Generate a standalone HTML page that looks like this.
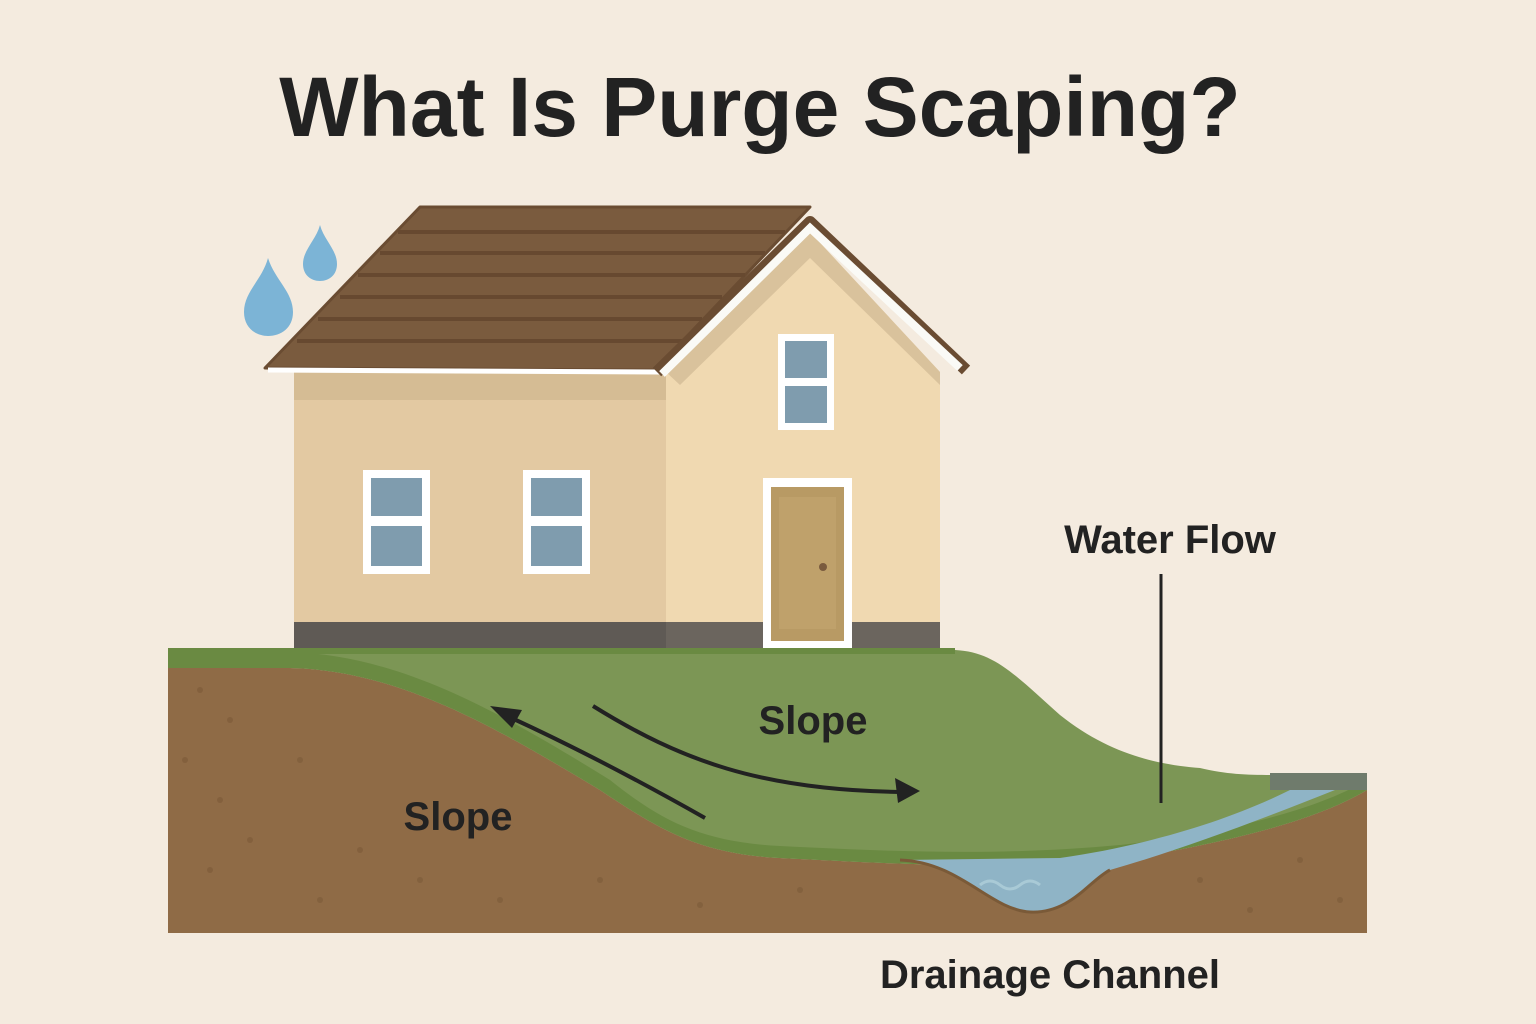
<!DOCTYPE html>
<html><head><meta charset="utf-8"><style>
html,body{margin:0;padding:0;background:#f4ebdf;}
svg{display:block}
text{font-family:"Liberation Sans","DejaVu Sans",sans-serif;fill:#222;}
</style></head><body>
<svg width="1536" height="1024" viewBox="0 0 1536 1024">
<rect width="1536" height="1024" fill="#f4ebdf"/>
<text x="760" y="136" text-anchor="middle" font-size="84" font-weight="bold">What Is Purge Scaping?</text>
<path d="M268,258 C262,280 244,292 244,312 C244,328 256,336 268,336 C281,336 293,328 293,312 C293,292 275,280 268,258Z" fill="#7cb4d6"/>
<path d="M320,225 C316,240 303,250 303,264 C303,275 311,281 320,281 C329,281 337,275 337,264 C337,250 324,240 320,225Z" fill="#7cb4d6"/>
<rect x="294" y="372" width="372" height="252" fill="#e3c9a2"/>
<rect x="294" y="372" width="372" height="28" fill="#d5bc94"/>
<polygon points="666,372 810,232 940,372 940,624 666,624" fill="#f0d9b1"/>
<polygon points="666,372 810,232 940,372 940,385 810,258 680,385" fill="#d9c29c"/>
<rect x="294" y="622" width="646" height="26" fill="#5f5a55"/>
<rect x="666" y="622" width="274" height="26" fill="#6b655e"/>
<polygon points="420,207 810,207 655,370 265,368" fill="#7a5b3e" stroke="#6a4c32" stroke-width="3" stroke-linejoin="round"/>
<g stroke="#674930" stroke-width="4">
<line x1="398" y1="232" x2="785" y2="232"/><line x1="380" y1="253" x2="765" y2="253"/><line x1="358" y1="275" x2="745" y2="275"/><line x1="340" y1="297" x2="722" y2="297"/><line x1="318" y1="319" x2="702" y2="319"/><line x1="297" y1="341" x2="682" y2="341"/>
</g>
<line x1="268" y1="370" x2="660" y2="372" stroke="#fff" stroke-width="5"/>
<polyline points="657,372 810,222 966,370" fill="none" stroke="#6a4c32" stroke-width="12" stroke-linejoin="round"/>
<polyline points="662,374 810,228 960,368" fill="none" stroke="#fafaf6" stroke-width="8" stroke-linejoin="miter"/>
<g>
<rect x="363" y="470" width="67" height="104" fill="#fff"/><rect x="371" y="478" width="51" height="38" fill="#7f9cae"/><rect x="371" y="526" width="51" height="40" fill="#7f9cae"/>
<rect x="523" y="470" width="67" height="104" fill="#fff"/><rect x="531" y="478" width="51" height="38" fill="#7f9cae"/><rect x="531" y="526" width="51" height="40" fill="#7f9cae"/>
<rect x="778" y="334" width="56" height="96" fill="#fff"/><rect x="785" y="341" width="42" height="37" fill="#7f9cae"/><rect x="785" y="386" width="42" height="37" fill="#7f9cae"/>
<rect x="763" y="478" width="89" height="170" fill="#fff"/><rect x="771" y="487" width="73" height="154" fill="#b89a64"/><rect x="779" y="497" width="57" height="132" fill="#bfa16b"/>
<circle cx="823" cy="567" r="4" fill="#7a5b3e"/>
</g>
<path d="M168,668 L290,668 C400,670 500,730 600,790 C660,830 700,854 780,858 C900,864 1000,870 1120,860 C1180,850 1300,830 1367,790 L1367,933 L168,933 Z" fill="#8f6b46"/>
<g fill="#7e5c3a" opacity="0.7">
<circle cx="200" cy="690" r="3"/><circle cx="230" cy="720" r="3"/><circle cx="185" cy="760" r="3"/><circle cx="220" cy="800" r="3"/><circle cx="250" cy="840" r="3"/><circle cx="210" cy="870" r="3"/><circle cx="300" cy="760" r="3"/><circle cx="320" cy="900" r="3"/><circle cx="360" cy="850" r="3"/><circle cx="420" cy="880" r="3"/><circle cx="500" cy="900" r="3"/><circle cx="600" cy="880" r="3"/><circle cx="700" cy="905" r="3"/><circle cx="800" cy="890" r="3"/><circle cx="1200" cy="880" r="3"/><circle cx="1300" cy="860" r="3"/><circle cx="1340" cy="900" r="3"/><circle cx="1250" cy="910" r="3"/>
</g>
<path d="M168,650 L955,650 C995,652 1015,675 1060,715 C1110,755 1160,765 1200,768 C1230,775 1250,775 1280,775 L1367,773 L1367,790 C1300,830 1180,850 1120,860 C1000,870 900,864 780,858 C700,854 660,830 600,790 C500,730 400,670 290,668 L168,668 Z" fill="#7c9655"/>
<path d="M168,668 L290,668 C400,670 500,730 600,790 C660,830 700,854 780,858 C900,864 1000,870 1120,860 C1180,850 1300,830 1367,790 L1367,780 C1300,820 1180,838 1120,845 C1000,856 900,852 780,846 C700,842 660,820 610,780 C500,712 400,655 290,652 L168,652 Z" fill="#6a8a42"/>
<rect x="168" y="648" width="787" height="6" fill="#6a8a42"/>
<path d="M900,860 C960,862 990,910 1030,912 C1070,914 1090,880 1110,870 C1180,850 1260,820 1335,790 L1290,790 C1230,820 1150,845 1060,858 Z" fill="#8fb4c6"/>
<path d="M900,860 C960,862 990,910 1030,912 C1070,914 1090,880 1110,870" fill="none" stroke="#7a5a38" stroke-width="3"/>
<path d="M1270,790 L1367,790 L1367,773 L1270,773Z" fill="#6f7b6c"/>
<path d="M980,885 q10,-8 20,0 t20,0 t20,0" fill="none" stroke="#a9cad6" stroke-width="3"/>
<path d="M705,818 C620,770 560,740 505,715" fill="none" stroke="#222" stroke-width="4"/>
<polygon points="490,706 522,710 512,728" fill="#222"/>
<path d="M593,706 C680,760 760,790 900,792" fill="none" stroke="#222" stroke-width="4"/>
<polygon points="920,791 895,778 898,803" fill="#222"/>
<text x="813" y="734" text-anchor="middle" font-size="40" font-weight="bold">Slope</text>
<text x="458" y="830" text-anchor="middle" font-size="40" font-weight="bold">Slope</text>
<text x="1170" y="553" text-anchor="middle" font-size="40" font-weight="bold">Water Flow</text>
<line x1="1161" y1="574" x2="1161" y2="803" stroke="#222" stroke-width="3"/>
<text x="1050" y="988" text-anchor="middle" font-size="40" font-weight="bold">Drainage Channel</text>
</svg>
</body></html>
